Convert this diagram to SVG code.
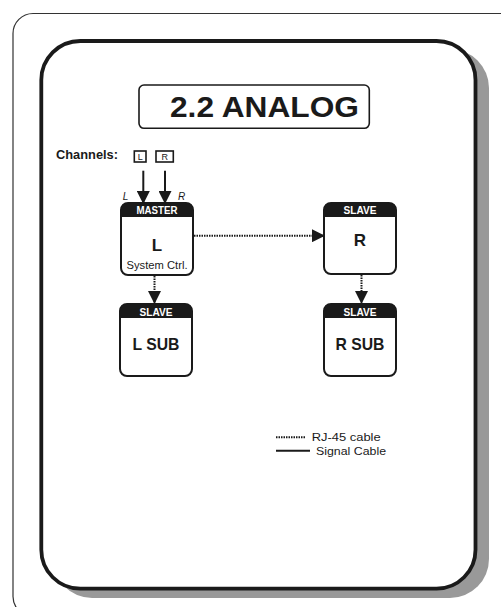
<svg xmlns="http://www.w3.org/2000/svg" width="501" height="607" viewBox="0 0 501 607">
<defs>
<style>
.frame{fill:none;stroke:#333;stroke-width:1.2}
.panel{fill:#fff;stroke:#1a1a1a;stroke-width:3.8}
.shadow{fill:#999}
.node{fill:#fff;stroke:#1a1a1a;stroke-width:2}
.hdr{fill:#1a1a1a}
.t{font-family:"Liberation Sans",Arial,sans-serif;fill:#1a1a1a}
.hdrt{font-family:"Liberation Sans",Arial,sans-serif;font-weight:bold;font-size:10px;fill:#fff;text-anchor:middle}
.big{font-size:17px;text-anchor:middle;font-weight:bold}
.dot{fill:none;stroke:#1a1a1a;stroke-width:2;stroke-dasharray:1.5 1}
.solid{fill:none;stroke:#1a1a1a;stroke-width:2}
</style>
<marker id="ah" markerWidth="13" markerHeight="13" viewBox="0 0 13 13" refX="13" refY="6.5" orient="auto" markerUnits="userSpaceOnUse">
<path d="M0,0 L13,6.5 L0,13 Z" fill="#1a1a1a"/>
</marker>
</defs>
<rect x="0" y="0" width="501" height="607" fill="#fff"/>
<rect class="frame" x="13" y="13.5" width="600" height="603" rx="20"/>
<rect class="shadow" x="53" y="49" width="436" height="549" rx="39"/>
<rect class="panel" x="41.3" y="41" width="434.2" height="547.7" rx="39"/>

<g id="title">
<rect x="139" y="85" width="230.3" height="43.3" rx="5" fill="#fff" stroke="#1a1a1a" stroke-width="1.6"/>
<text class="t" x="170" y="116.7" font-size="29" font-weight="bold" textLength="189" lengthAdjust="spacingAndGlyphs">2.2 ANALOG</text>
</g>

<g id="channels">
<text class="t" x="56" y="159" font-size="12" font-weight="bold" textLength="62" lengthAdjust="spacingAndGlyphs">Channels:</text>
<rect x="134.3" y="151" width="11.7" height="11" fill="#fff" stroke="#1a1a1a" stroke-width="1.6"/>
<text class="t" x="140.2" y="160" font-size="9" text-anchor="middle">L</text>
<rect x="156" y="151" width="17.3" height="11" fill="#fff" stroke="#1a1a1a" stroke-width="1.6"/>
<text class="t" x="164.7" y="160" font-size="9" text-anchor="middle">R</text>
<text class="t" x="125.5" y="200" font-size="10" font-style="italic" text-anchor="middle">L</text>
<text class="t" x="181.5" y="200" font-size="10" font-style="italic" text-anchor="middle">R</text>
</g>

<g id="master">
<rect class="node" x="121" y="203" width="72" height="72" rx="7"/>
<path class="hdr" d="M121,217 L121,210 Q121,203 128,203 L186,203 Q193,203 193,210 L193,217 Z"/>
<text class="hdrt" x="157" y="214.3" textLength="41" lengthAdjust="spacingAndGlyphs">MASTER</text>
<text class="t big" x="157" y="251">L</text>
<text class="t" x="157" y="269.3" font-size="10.5" text-anchor="middle" textLength="61" lengthAdjust="spacingAndGlyphs">System Ctrl.</text>
</g>

<g id="lsub">
<rect class="node" x="120" y="304" width="72" height="72" rx="7"/>
<path class="hdr" d="M120,318 L120,311 Q120,304 127,304 L185,304 Q192,304 192,311 L192,318 Z"/>
<text class="hdrt" x="156" y="316" textLength="33" lengthAdjust="spacingAndGlyphs">SLAVE</text>
<text class="t big" x="156" y="349.5" font-size="18" textLength="47" lengthAdjust="spacingAndGlyphs">L SUB</text>
</g>

<g id="r">
<rect class="node" x="324" y="203" width="72" height="71" rx="7"/>
<path class="hdr" d="M324,217 L324,210 Q324,203 331,203 L389,203 Q396,203 396,210 L396,217 Z"/>
<text class="hdrt" x="360" y="214.3" textLength="33" lengthAdjust="spacingAndGlyphs">SLAVE</text>
<text class="t big" x="360" y="246">R</text>
</g>

<g id="rsub">
<rect class="node" x="324" y="304" width="72" height="72" rx="7"/>
<path class="hdr" d="M324,318 L324,311 Q324,304 331,304 L389,304 Q396,304 396,311 L396,318 Z"/>
<text class="hdrt" x="360" y="316" textLength="33" lengthAdjust="spacingAndGlyphs">SLAVE</text>
<text class="t big" x="360" y="349.5" font-size="18" textLength="49" lengthAdjust="spacingAndGlyphs">R SUB</text>
</g>

<g id="connectors">
<line class="solid" x1="143.3" y1="170.7" x2="143.3" y2="204" stroke-width="2.5" marker-end="url(#ah)"/>
<line class="solid" x1="165" y1="170.7" x2="165" y2="204" stroke-width="2.5" marker-end="url(#ah)"/>
<line class="dot" x1="194" y1="235.7" x2="325" y2="235.7" marker-end="url(#ah)"/>
<line class="dot" x1="154.5" y1="276" x2="154.5" y2="304" marker-end="url(#ah)"/>
<line class="dot" x1="361.5" y1="275" x2="361.5" y2="304" marker-end="url(#ah)"/>
</g>

<g id="legend">
<line class="dot" x1="276" y1="437.3" x2="305" y2="437.3"/>
<line class="solid" x1="276" y1="450.7" x2="310" y2="450.7"/>
<text class="t" x="311.7" y="440.5" font-size="10.5" textLength="69" lengthAdjust="spacingAndGlyphs">RJ-45 cable</text>
<text class="t" x="316" y="454.5" font-size="10.5" textLength="70" lengthAdjust="spacingAndGlyphs">Signal Cable</text>
</g>
</svg>
